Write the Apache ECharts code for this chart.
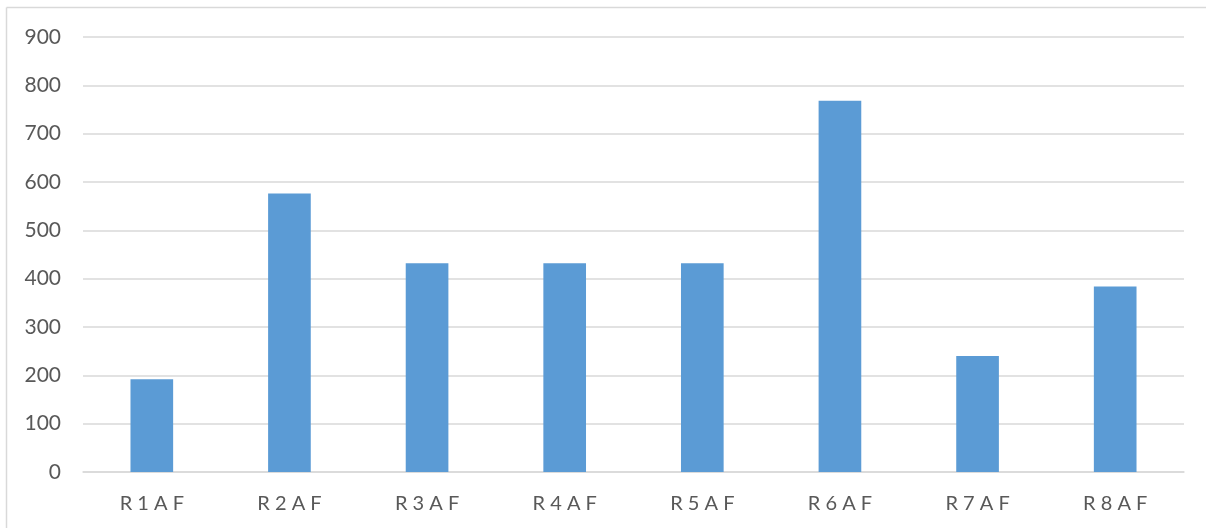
<!DOCTYPE html>
<html>
<head>
<meta charset="utf-8">
<script src="https://cdn.jsdelivr.net/npm/echarts@6/dist/echarts.min.js"></script>
<style>html,body{margin:0;padding:0;background:#fff}#c{width:1206px;height:528px}</style>
</head>
<body>
<div id="c"></div>
<script>
const categories = ["R 1 A F", "R 2 A F", "R 3 A F", "R 4 A F", "R 5 A F", "R 6 A F", "R 7 A F", "R 8 A F"];
const values = [192, 576, 432, 432, 432, 768, 240, 384];
const yMin = 0, yMax = 900, yInterval = 100;

const chart = echarts.init(document.getElementById('c'), null, {renderer: 'canvas'});
chart.setOption({
  animation: false,
  backgroundColor: '#fff',
  graphic: [
    {type: 'line', shape: {x1: 6.5, y1: 7.5, x2: 1206, y2: 7.5}, style: {stroke: '#d9d9d9', lineWidth: 1.5}},
    {type: 'line', shape: {x1: 6.5, y1: 7.5, x2: 6.5, y2: 528}, style: {stroke: '#d9d9d9', lineWidth: 1.5}}
  ],
  grid: {left: 83, right: 22, top: 37, bottom: 56, containLabel: false},
  xAxis: {
    type: 'category',
    data: categories,
    axisLine: {show: true, lineStyle: {color: '#d9d9d9', width: 1.5}},
    axisTick: {show: false},
    axisLabel: {color: '#595959', fontFamily: 'Lato', fontSize: 20, margin: 22}
  },
  yAxis: {
    type: 'value',
    min: yMin, max: yMax, interval: yInterval,
    axisLine: {show: false},
    axisTick: {show: false},
    splitLine: {lineStyle: {color: '#d9d9d9', width: 1.5}},
    axisLabel: {color: '#595959', fontFamily: 'Lato', fontSize: 21, margin: 22}
  },
  series: [{
    type: 'bar',
    data: values,
    barWidth: '31%',
    itemStyle: {color: '#5b9bd5'}
  }]
});
</script>
</body>
</html>
